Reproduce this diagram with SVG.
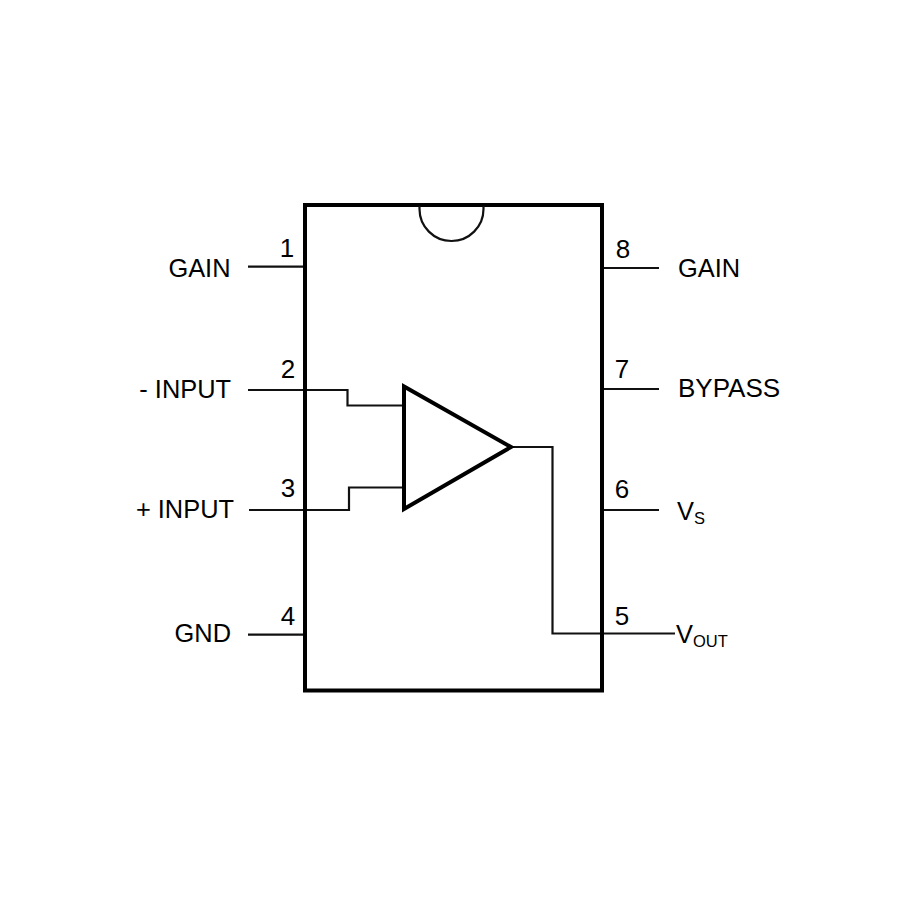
<svg xmlns="http://www.w3.org/2000/svg" width="900" height="900" viewBox="0 0 900 900">
<style>
text{font-family:"Liberation Sans",Arial,sans-serif;font-size:25.4px;fill:#000}
.num{text-anchor:middle;font-size:26px}
.end{text-anchor:end}
.wide{font-size:26px}
.sub{font-size:16.5px}
.wire{fill:none;stroke:#111;stroke-width:2.2}
.body{fill:none;stroke:#000;stroke-width:4;stroke-linejoin:miter}
</style>
<rect width="900" height="900" fill="#fff"/>
<g id="connectors">
<path class="wire" d="M248 266.7H304"/>
<path class="wire" d="M248 390H347.500V405.500H404"/>
<path class="wire" d="M249 510H349V487.500H404"/>
<path class="wire" d="M248 634.700H304"/>
<path class="wire" d="M602 268H659"/>
<path class="wire" d="M602 389H659"/>
<path class="wire" d="M602 510H659"/>
<path class="wire" d="M511 447H552.500V633.500H675"/>
</g>
<g id="package">
<rect class="body" x="305" y="205" width="297" height="485.500"/>
<path d="M419.500 206V209A32 32 0 0 0 483.500 209V206" fill="none" stroke="#111" stroke-width="2.200"/>
</g>
<g id="amplifier">
<path class="body" d="M404 386.500V509L511 447Z"/>
</g>
<g id="pin1"><text class="num" x="287" y="257">1</text><text class="end" x="230.500" y="277">GAIN</text></g>
<g id="pin2"><text class="num" x="288" y="377.500">2</text><text class="end" x="231" y="397.500">- INPUT</text></g>
<g id="pin3"><text class="num" x="288" y="497">3</text><text class="end" x="234" y="517.500">+ INPUT</text></g>
<g id="pin4"><text class="num" x="288" y="625">4</text><text class="end" x="231" y="641.700">GND</text></g>
<g id="pin5"><text class="num" x="622" y="625">5</text><text x="676" y="643">V<tspan class="sub" dy="3.500">OUT</tspan></text></g>
<g id="pin6"><text class="num" x="622" y="498">6</text><text x="677" y="520">V<tspan class="sub" dy="3.500">S</tspan></text></g>
<g id="pin7"><text class="num" x="622" y="378">7</text><text class="wide" x="678" y="397">BYPASS</text></g>
<g id="pin8"><text class="num" x="623" y="258">8</text><text x="678" y="277">GAIN</text></g>
</svg>
